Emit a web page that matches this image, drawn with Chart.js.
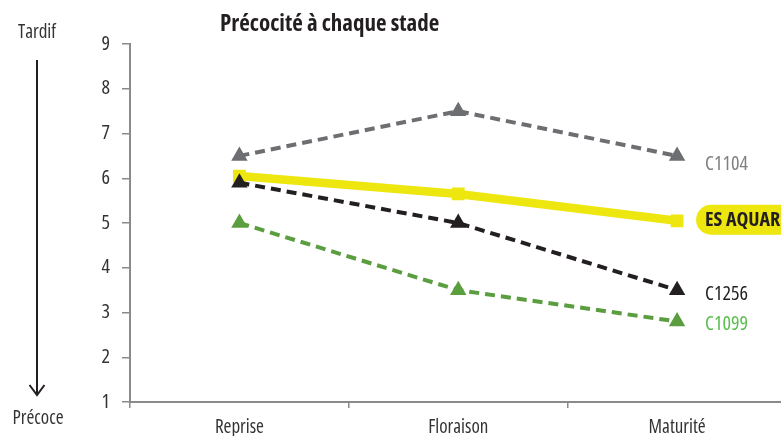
<!DOCTYPE html>
<html>
<head>
<meta charset="utf-8">
<script src="https://cdn.jsdelivr.net/npm/chart.js@4/dist/chart.umd.min.js"></script>
<style>
  html, body { margin: 0; padding: 0; background: #fff; overflow: hidden; }
  #wrap { position: relative; width: 781px; height: 436px; overflow: hidden; }
  canvas { display: block; }
</style>
</head>
<body>
<div id="wrap"><canvas id="c" width="796" height="436"></canvas></div>
<script>
const categories = ['Reprise', 'Floraison', 'Maturité'];
const seriesNames = ['C1256', 'ES AQUAR', 'C1104', 'C1099'];
const c1256 = [5.9, 5.0, 3.5];
const esAquar = [6.05, 5.65, 5.05];
const c1104 = [6.5, 7.5, 6.5];
const c1099 = [5.0, 3.5, 2.8];
const yTicks = [1, 2, 3, 4, 5, 6, 7, 8, 9];
const titleText = 'Précocité à chaque stade';
const topLabel = 'Tardif';
const bottomLabel = 'Précoce';

const FONT = '"Open Sans", sans-serif';

const labelStyles = [
  { color: '#231f20', dy: 3, bold: false, pill: false },
  { color: '#231f20', dy: -1, bold: true, pill: true },
  { color: '#808184', dy: 7, bold: false, pill: false },
  { color: '#5cbf4f', dy: 2, bold: false, pill: false }
];

const extras = {
  id: 'extras',
  afterDatasetsDraw(chart) {
    const ctx = chart.ctx;
    const xs = chart.scales.x, ys = chart.scales.y;
    ctx.save();
    // title
    ctx.fillStyle = '#231f20';
    ctx.font = 'bold condensed 23px ' + FONT;
    ctx.textAlign = 'left';
    ctx.textBaseline = 'middle';
    ctx.fillText(titleText, 220, 24);
    // side labels
    ctx.font = 'condensed 19px ' + FONT;
    ctx.fillStyle = '#333';
    ctx.textAlign = 'center';
    ctx.fillText(topLabel, 37, 33);
    ctx.fillText(bottomLabel, 38, 419);
    // arrow
    ctx.strokeStyle = '#231f20';
    ctx.lineWidth = 2;
    ctx.beginPath();
    ctx.moveTo(37, 60); ctx.lineTo(37, 394);
    ctx.stroke();
    ctx.beginPath();
    ctx.moveTo(29.5, 385); ctx.lineTo(37, 395); ctx.lineTo(44.5, 385);
    ctx.stroke();
    // end labels
    chart.data.datasets.forEach((ds, i) => {
      const st = labelStyles[i];
      const last = ds.data.length - 1;
      const px = xs.getPixelForValue(last) + 28;
      const py = ys.getPixelForValue(ds.data[last]) + st.dy;
      ctx.textAlign = 'left';
      ctx.textBaseline = 'middle';
      if (st.pill) {
        ctx.fillStyle = '#ede60f';
        const h = 30, x0 = px - 9;
        ctx.beginPath();
        ctx.moveTo(x0 + h / 2, py - h / 2);
        ctx.lineTo(810, py - h / 2);
        ctx.lineTo(810, py + h / 2);
        ctx.lineTo(x0 + h / 2, py + h / 2);
        ctx.arc(x0 + h / 2, py, h / 2, Math.PI / 2, Math.PI * 1.5);
        ctx.closePath();
        ctx.fill();
      }
      ctx.font = (st.bold ? 'bold condensed ' : 'condensed ') + '20px ' + FONT;
      ctx.fillStyle = st.color;
      ctx.fillText(ds.label, px, py + 1);
    });
    ctx.restore();
  }
};

const dashed = (label, data, color) => ({
  label, data,
  borderColor: color, backgroundColor: color,
  borderWidth: 4, borderDash: [10, 6],
  pointStyle: 'triangle', pointRadius: 9.5, pointHoverRadius: 9.5,
  pointBorderWidth: 0, tension: 0, fill: false
});

new Chart(document.getElementById('c'), {
  type: 'line',
  data: {
    labels: categories,
    datasets: [
      dashed(seriesNames[0], c1256, '#231f20'),
      {
        label: seriesNames[1], data: esAquar,
        borderColor: '#ede60f', backgroundColor: '#ede60f',
        borderWidth: 8.5, pointStyle: 'rect', pointRadius: 9, pointHoverRadius: 9,
        pointBorderWidth: 0, tension: 0, fill: false
      },
      dashed(seriesNames[2], c1104, '#6d6e71'),
      dashed(seriesNames[3], c1099, '#5a9e3f')
    ]
  },
  options: {
    responsive: false,
    animation: false,
    devicePixelRatio: 1,
    events: [],
    layout: { padding: { top: 44, left: 0, right: 1, bottom: 0 } },
    plugins: { legend: { display: false }, tooltip: { enabled: false }, title: { display: false } },
    scales: {
      x: {
        type: 'category',
        offset: true,
        afterFit(s) { s.height = 34; },
        border: { display: true, color: '#8a8a8a', width: 2 },
        grid: { display: true, drawOnChartArea: false, drawTicks: true, tickLength: 6, color: '#8a8a8a', lineWidth: 1.5, offset: true },
        ticks: { color: '#333', font: { family: FONT, size: 19, weight: 'condensed' }, padding: 8, maxRotation: 0 }
      },
      y: {
        min: 1, max: 9,
        afterFit(s) { s.width = 130; },
        afterBuildTicks(s) { s.ticks = yTicks.map(v => ({ value: v })); },
        border: { display: true, color: '#8a8a8a', width: 2 },
        grid: { display: true, drawOnChartArea: false, drawTicks: true, tickLength: 8, color: '#8a8a8a', lineWidth: 1.5 },
        ticks: { color: '#333', font: { family: FONT, size: 20, weight: 'condensed' }, padding: 12 }
      }
    }
  },
  plugins: [extras]
});
</script>
</body>
</html>
